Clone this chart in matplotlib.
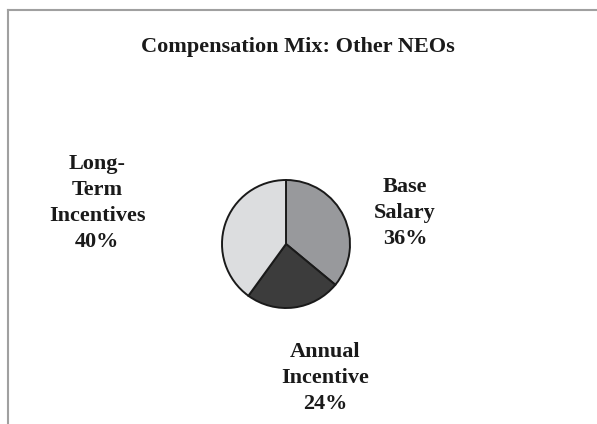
import matplotlib
matplotlib.use("Agg")
import matplotlib.pyplot as plt
from matplotlib.lines import Line2D

title = "Compensation Mix: Other NEOs"
categories = ["Base\nSalary", "Annual\nIncentive", "Long-\nTerm\nIncentives"]
values = [36, 24, 40]
colors = ["#98999c", "#3c3c3c", "#dcdddf"]

W, H = 597, 424
fig = plt.figure(figsize=(W / 100, H / 100), dpi=100)
fig.patch.set_facecolor("white")
plt.rcParams["font.family"] = ["Liberation Serif", "DejaVu Serif"]

def fx(x): return x / W
def fy(y): return 1 - y / H

# frame lines (left and top only)
fig.add_artist(Line2D([fx(7.5), fx(7.5)], [fy(10), fy(424)], color="#a0a0a0", lw=1.5, transform=fig.transFigure))
fig.add_artist(Line2D([fx(7.5), fx(597)], [fy(10), fy(10)], color="#a0a0a0", lw=1.5, transform=fig.transFigure))

cx, cy, r = 286, 244, 64
ax = fig.add_axes([fx(cx - r), fy(cy + r), 2 * r / W, 2 * r / H])
ax.pie(values, colors=colors, startangle=90, counterclock=False,
       wedgeprops=dict(edgecolor="#1a1a1a", linewidth=1.4))
ax.set_xlim(-1, 1)
ax.set_ylim(-1, 1)
ax.set_aspect("equal")
ax.axis("off")

fig.text(fx(298), fy(47), title, ha="center", va="center", fontsize=16, fontweight="bold", color="#1a1a1a")

label_pos = [(405, 213), (325, 378), (97, 203)]
for (name, v), (x, y) in zip(zip(categories, values), label_pos):
    fig.text(fx(x), fy(y), f"{name}\n{v}%", ha="center", va="center", fontsize=16,
             fontweight="bold", color="#1a1a1a", linespacing=1.38)

fig.savefig("out.png", dpi=100, facecolor="white")
